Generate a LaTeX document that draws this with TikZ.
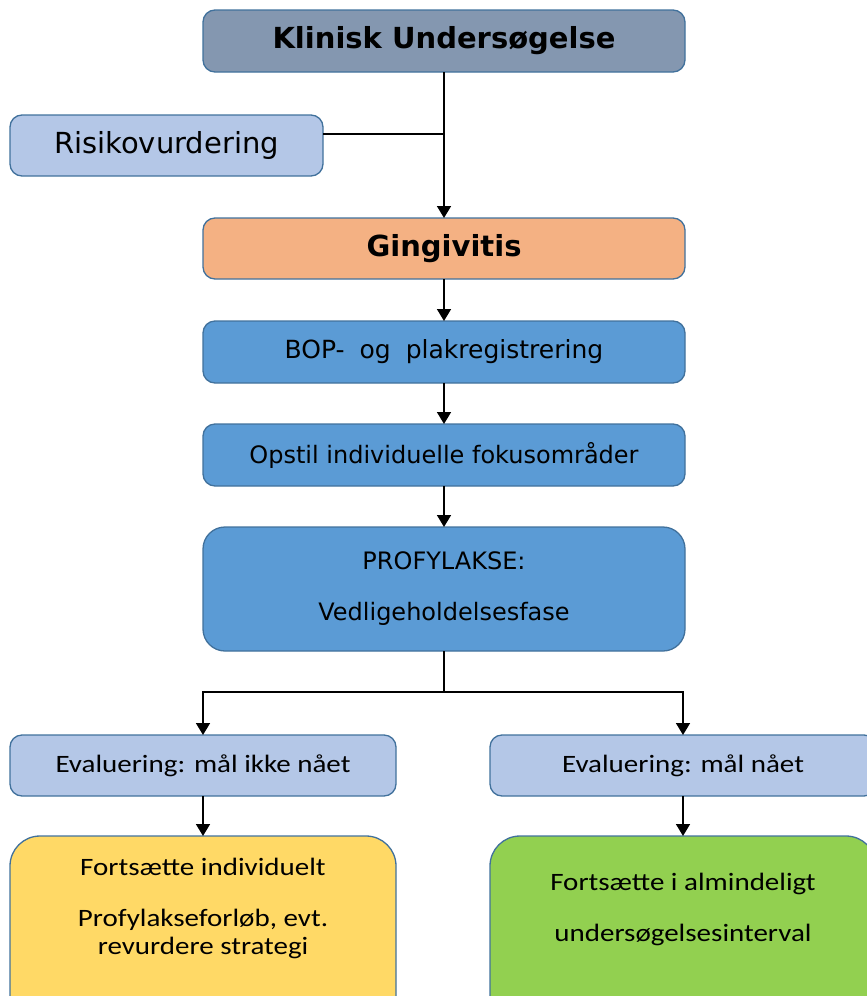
\documentclass[tikz,border=0pt]{standalone}
\usepackage{fontspec}
\usetikzlibrary{arrows.meta,calc}
\newfontfamily\verd{DejaVu Sans}
\newfontfamily\calib[FakeStretch=1.16]{Carlito}
\definecolor{edge}{HTML}{41719C}
\definecolor{slate}{HTML}{8497B0}
\definecolor{pale}{HTML}{B4C7E7}
\definecolor{peach}{HTML}{F4B183}
\definecolor{mid}{HTML}{5B9BD5}
\definecolor{sun}{HTML}{FFD966}
\definecolor{leaf}{HTML}{92D050}
\tikzset{
  box/.style={draw=edge, line width=1.3pt, rounded corners=12pt, inner sep=0pt,
              outer sep=0pt, align=center, text=black},
  wide/.style={box, minimum width=482pt, minimum height=62pt},
  head/.style={font=\verd\bfseries\fontsize{29}{34}\selectfont},
  body/.style={font=\verd\fontsize{24}{29}\selectfont},
  note/.style={font=\calib\fontsize{25}{28}\selectfont, align=center},
  link/.style={line width=1.6pt, black},
  arr/.style={link, -{Triangle[width=14pt,length=12pt]}},
}
\begin{document}
\begin{tikzpicture}[x=1pt, y=-1pt]
\useasboundingbox (0,0) rectangle (867,996);
\clip (0,0) rectangle (867,996);

% main column
\node[wide, fill=slate, head] (klin) at (444,41) {Klinisk Undersøgelse};
\node[box, fill=pale, minimum width=313pt, minimum height=61pt,
      font=\verd\fontsize{29}{34}\selectfont] (risk) at (166.5,145.5) {Risikovurdering};
\node[wide, fill=peach, head, minimum height=61pt] (ging) at (444,248.5) {Gingivitis};
\node[wide, fill=mid, body, font=\verd\fontsize{25}{29}\selectfont] (bop) at (444,352)
      {BOP-\hspace{0.6em}og\hspace{0.6em}plakregistrering};
\node[wide, fill=mid, body] (fokus) at (444,455) {Opstil individuelle fokusområder};
\node[wide, fill=mid, body, minimum height=124pt, rounded corners=22pt] (prof) at (444,589)
      {PROFYLAKSE:\\[22pt]Vedligeholdelsesfase};

% evaluation branches
\node[box, fill=pale, minimum width=386pt, minimum height=61pt, note] (evL) at (203,765.5)
      {Evaluering: mål ikke nået};
\node[box, fill=pale, minimum width=386pt, minimum height=61pt, note] (evR) at (683,765.5)
      {Evaluering: mål nået};
\node[box, fill=sun, minimum width=386pt, minimum height=190pt, rounded corners=30pt] (fL) at (203,931) {};
\node[box, fill=leaf, minimum width=386pt, minimum height=190pt, rounded corners=30pt] (fR) at (683,931) {};
\node[note] (fL1) at (203,867) {Fortsætte individuelt};
\node[note] (fL2) at (203,934) {Profylakseforløb, evt.\\revurdere strategi};
\node[note] (fR1) at (683,884) {Fortsætte i almindeligt};
\node[note] (fR2) at (683,935) {undersøgelsesinterval};

% connectors
\coordinate (j) at (444,134);
\draw[link] (klin.south) -- (j);
\draw[arr] (j) -- (ging.north);
\draw[link] (risk.east |- j) -- (j);
\draw[arr] (ging.south) -- (bop.north);
\draw[arr] (bop.south) -- (fokus.north);
\draw[arr] (fokus.south) -- (prof.north);
\coordinate (split) at ($(prof.south)+(0,41)$);
\draw[arr] (prof.south) -- (split) -| (evL.north);
\draw[arr] (split) -| (evR.north);
\draw[arr] (evL.south) -- (fL.north);
\draw[arr] (evR.south) -- (fR.north);
\end{tikzpicture}
\end{document}
